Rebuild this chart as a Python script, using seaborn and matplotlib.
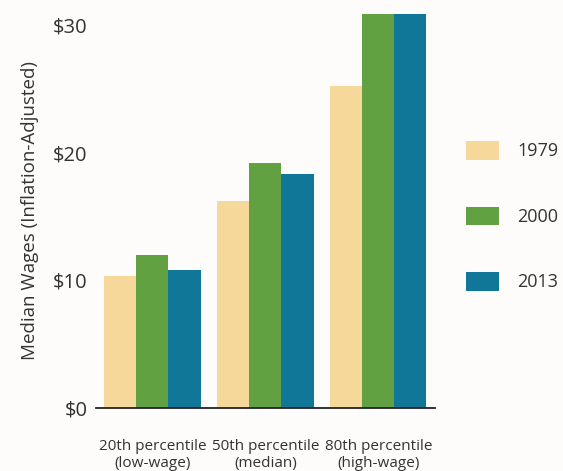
import pandas as pd
import seaborn as sns
import matplotlib.pyplot as plt

groups = ["20th percentile\n(low-wage)", "50th percentile\n(median)", "80th percentile\n(high-wage)"]
years = ["1979", "2000", "2013"]
wages_1979 = [10.3, 16.2, 25.2]
wages_2000 = [12.0, 19.2, 31.0]
wages_2013 = [10.8, 18.3, 31.2]
colors = ["#F6D99A", "#62A141", "#107799"]
y_ticks = [0, 10, 20, 30]
y_tick_labels = ["$0", "$10", "$20", "$30"]

rows = []
for year, vals in zip(years, [wages_1979, wages_2000, wages_2013]):
    for g, v in zip(groups, vals):
        rows.append({"group": g, "year": year, "wage": v})
df = pd.DataFrame(rows)

sns.set_style("white")
plt.rcParams["font.family"] = ["Open Sans", "DejaVu Sans"]
text_col = "#333333"
bg = "#FDFCFA"

fig = plt.figure(figsize=(5.63, 4.71), dpi=100, facecolor=bg)
ax = fig.add_axes([0.1705, 0.1338, 0.6021, 0.8365])
ax.set_facecolor(bg)

sns.barplot(data=df, x="group", y="wage", hue="year", palette=colors,
            width=0.85, saturation=1, ax=ax, linewidth=0)

ax.set_xlim(-0.5, 2.5)
ax.set_ylim(0, 30.85)
ax.set_yticks(y_ticks)
ax.set_yticklabels(y_tick_labels, fontsize=14.5, color=text_col)
ax.tick_params(axis="y", length=0, pad=6)
ax.tick_params(axis="x", length=0, pad=22, labelsize=11, labelcolor=text_col)
for lab in ax.get_xticklabels():
    lab.set_linespacing(1.2)
ax.set_xlabel("")
ax.set_ylabel("Median Wages (Inflation-Adjusted)", fontsize=13.5, color=text_col, labelpad=10)

for s in ["top", "right", "left"]:
    ax.spines[s].set_visible(False)
ax.spines["bottom"].set_color("#222222")
ax.spines["bottom"].set_linewidth(1.3)

handles, labels = ax.get_legend_handles_labels()
ax.legend(handles, labels, loc="upper left", bbox_to_anchor=(0.8277, 0.7006),
          bbox_transform=fig.transFigure, frameon=False, fontsize=13,
          handlelength=1.83, handleheight=1.22, handletextpad=1.0,
          labelspacing=2.55, borderpad=0, borderaxespad=0, labelcolor=text_col)

fig.savefig("out.png", dpi=100, facecolor=bg)
